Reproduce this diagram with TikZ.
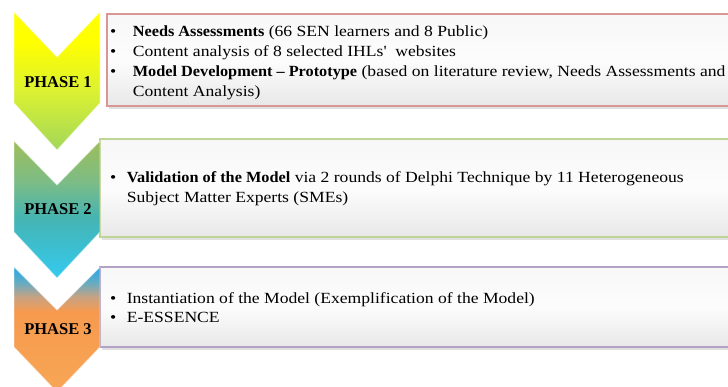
\documentclass[tikz,border=0pt]{standalone}
\usepackage{fontspec}
\setmainfont{Liberation Serif}
\newfontfamily\bodyfont{Liberation Serif}[
  UprightFeatures={FakeStretch=1.135},
  BoldFeatures={FakeStretch=1.05}]
\usetikzlibrary{calc}

% chevron colours; TikZ maps a shape's height onto 25bp..75bp of a shading
\definecolor{yA}{HTML}{FFFF00}
\definecolor{yB}{HTML}{DDF230}
\definecolor{yC}{HTML}{A2D75A}
\definecolor{gA}{HTML}{9EBE5A}
\definecolor{gB}{HTML}{7CBC86}
\definecolor{gC}{HTML}{45B4B2}
\definecolor{gD}{HTML}{34CAF0}
\definecolor{oA}{HTML}{3AA8DA}
\definecolor{oB}{HTML}{62ACC4}
\definecolor{oC}{HTML}{C8A282}
\definecolor{oD}{HTML}{F79A4E}
\definecolor{oE}{HTML}{F7A656}

\pgfdeclareverticalshading{chevA}{100bp}{
  color(0bp)=(yC);
  color(25bp)=(yC);
  color(47bp)=(yB);
  color(64bp)=(yA);
  color(100bp)=(yA)}
\pgfdeclareverticalshading{chevB}{100bp}{
  color(0bp)=(gD);
  color(25bp)=(gD);
  color(47bp)=(gC);
  color(60bp)=(gB);
  color(75bp)=(gA);
  color(100bp)=(gA)}
\pgfdeclareverticalshading{chevC}{100bp}{
  color(0bp)=(oE);
  color(25bp)=(oE);
  color(57bp)=(oD);
  color(63bp)=(oC);
  color(69bp)=(oB);
  color(73bp)=(oA);
  color(100bp)=(oA)}

\definecolor{borderA}{HTML}{D99694}
\definecolor{borderB}{HTML}{BFD497}
\definecolor{borderC}{HTML}{B3A2C7}

\tikzset{
  phaselabel/.style={font=\fontsize{16.5}{18}\selectfont\bfseries, inner sep=0pt},
  bullettext/.style={font=\bodyfont\fontsize{15.5}{20}\selectfont, anchor=base west, inner sep=0pt, align=left},
  chevedge/.style={draw=white, draw opacity=0.5, line width=0.9pt, line join=round},
  infobox/.style={line width=1.2pt, top color=white!97!black, bottom color=white!91!black, middle color=white!99!black}
}

\begin{document}
\begin{tikzpicture}[x=1pt, y=-1pt]
\useasboundingbox (0,0) rectangle (728,387);
\fill[white] (0,0) rectangle (728,387);

% ---- information boxes with soft drop shadow ----
\fill[black!12] (109,17) rectangle (740,109);
\draw[infobox, draw=borderA] (107,14) rectangle (740,106);
\fill[black!12] (102,142) rectangle (740,240);
\draw[infobox, draw=borderB] (100,139) rectangle (740,237);
\fill[black!12] (102,270) rectangle (740,350);
\draw[infobox, draw=borderC] (100,267) rectangle (740,347);

% ---- chevrons ----
\shade[shading=chevA] (14,12) -- (57,57) -- (100,12) -- (100,103) -- (57,150) -- (14,103) -- cycle;
\draw[chevedge] (14,12) -- (57,57) -- (100,12) -- (100,103) -- (57,150) -- (14,103) -- cycle;
\shade[shading=chevB] (14,141) -- (57,185) -- (100,141) -- (100,232) -- (57,278) -- (14,232) -- cycle;
\draw[chevedge] (14,141) -- (57,185) -- (100,141) -- (100,232) -- (57,278) -- (14,232) -- cycle;
\shade[shading=chevC] (14,267) -- (57,310) -- (100,267) -- (100,347) -- (57,392) -- (14,347) -- cycle;
\draw[chevedge] (14,267) -- (57,310) -- (100,267) -- (100,347) -- (57,392) -- (14,347) -- cycle;

\node[phaselabel] (p1) at (58,82) {PHASE 1};
\node[phaselabel] (p2) at (58,209) {PHASE 2};
\node[phaselabel] (p3) at (58,329) {PHASE 3};

% ---- bullet texts ----
\node[bullettext] (t1) at (110,37) {%
  \begin{tabular}[t]{@{}l@{\hspace{16.5pt}}l@{}}
  • & \textbf{Needs Assessments} (66 SEN learners and 8 Public)\\
  • & Content analysis of 8 selected IHLs'\ \ websites\\
  • & \textbf{Model Development – Prototype} (based on literature review, Needs Assessments and\\
    & Content Analysis)
  \end{tabular}};
\node[bullettext] (t2) at (110,183) {%
  \begin{tabular}[t]{@{}l@{\hspace{10.5pt}}l@{}}
  • & \textbf{Validation of the Model} via 2 rounds of Delphi Technique by 11 Heterogeneous\\
    & Subject Matter Experts (SMEs)
  \end{tabular}};
\node[bullettext] (t3) at (110,303) {%
  \begin{tabular}[t]{@{}l@{\hspace{10.5pt}}l@{}}
  • & Instantiation of the Model (Exemplification of the Model)\\
  • & E-ESSENCE
  \end{tabular}};
\end{tikzpicture}
\end{document}
